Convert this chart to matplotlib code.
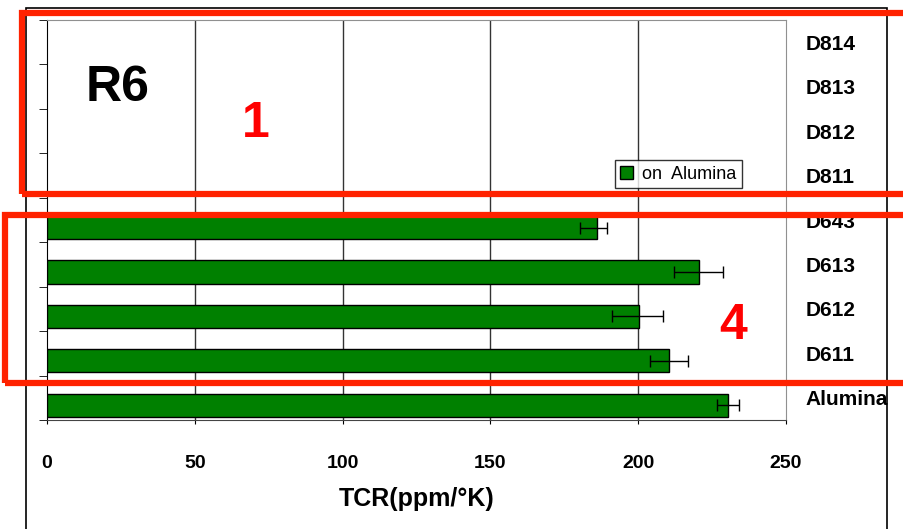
import numpy as np
import matplotlib
matplotlib.use("Agg")
import matplotlib.pyplot as plt
from matplotlib.patches import Rectangle

plt.rcParams['font.family'] = ['Liberation Sans', 'DejaVu Sans']

# data, bottom to top
samples = ["Alumina", "D611", "D612", "D613", "D643", "D811", "D812", "D813", "D814"]
tcr = [230.4, 210.4, 200.4, 220.4, 186.0, np.nan, np.nan, np.nan, np.nan]
err_lo = [3.6, 6.3, 9.2, 8.2, 5.7, 0, 0, 0, 0]
err_hi = [3.6, 6.4, 8.1, 8.2, 3.5, 0, 0, 0, 0]
xticks = [0, 50, 100, 150, 200, 250]

fig = plt.figure(figsize=(9.04, 5.29), dpi=100)
ax = fig.add_axes([47 / 904, 109 / 529, 739 / 904, 400 / 529])

y = np.arange(len(samples))
ax.barh(y - 0.17, tcr, height=0.52, color="#008000", edgecolor="black",
        linewidth=1, label="on  Alumina", zorder=3)
ax.errorbar(tcr, y - 0.17, xerr=[err_lo, err_hi], fmt="none", ecolor="black",
            elinewidth=1, capsize=4, capthick=1, zorder=4)

ax.set_xlim(0, 250)
ax.set_ylim(-0.5, len(samples) - 0.5)
ax.set_xticks(xticks)
ax.set_xticklabels([str(t) for t in xticks], fontsize=14, fontweight="bold")
ax.tick_params(axis="x", length=3, pad=22)
for t in xticks[1:-1]:
    ax.axvline(t, color="#333333", linewidth=1, zorder=1)

# category labels on the right, boundary ticks on the left
ax.set_yticks(y)
ax.set_yticklabels(samples, fontsize=15, fontweight="bold")
ax.yaxis.tick_right()
ax.tick_params(axis="y", which="major", length=0, pad=14)
ax.set_yticks(np.arange(-0.5, len(samples)), minor=True)
ax.tick_params(axis="y", which="minor", left=True, right=False, length=6, direction="out")

ax.spines["left"].set_color("black")
ax.spines["bottom"].set_color("#444444")
ax.spines["top"].set_color("#909090")
ax.spines["right"].set_color("#909090")

ax.set_xlabel("TCR(ppm/°K)", fontsize=18, fontweight="bold", labelpad=11)

ax.text(0.095, 0.83, "R6", transform=ax.transAxes, fontsize=36, fontweight="bold",
        ha="center", va="center")
ax.legend(loc="lower right", bbox_to_anchor=(0.94, 0.58), fontsize=13, frameon=True,
          fancybox=False, edgecolor="black", handlelength=0.7, handleheight=0.7,
          handletextpad=0.5, borderpad=0.3, borderaxespad=0)

# outer chart border
fig.add_artist(Rectangle((26 / 904, -0.05), 861 / 904, 1.05 - 8 / 529,
                         transform=fig.transFigure, fill=False, edgecolor="black",
                         linewidth=1.2))

# red annotation boxes
red = "#ff2200"
fig.add_artist(Rectangle((22 / 904, 1 - 194 / 529), 950 / 904, 181 / 529,
                         transform=fig.transFigure, fill=False, edgecolor=red,
                         linewidth=4.5, zorder=10))
fig.add_artist(Rectangle((5 / 904, 1 - 383 / 529), 950 / 904, 168 / 529,
                         transform=fig.transFigure, fill=False, edgecolor=red,
                         linewidth=4.5, zorder=10))
fig.text(256 / 904, 1 - 124 / 529, "1", color="red", fontsize=36, fontweight="bold",
         ha="center", va="center", zorder=11)
fig.text(733 / 904, 1 - 326 / 529, "4", color="red", fontsize=36, fontweight="bold",
         ha="center", va="center", zorder=11)

fig.savefig("out.png", dpi=100)
